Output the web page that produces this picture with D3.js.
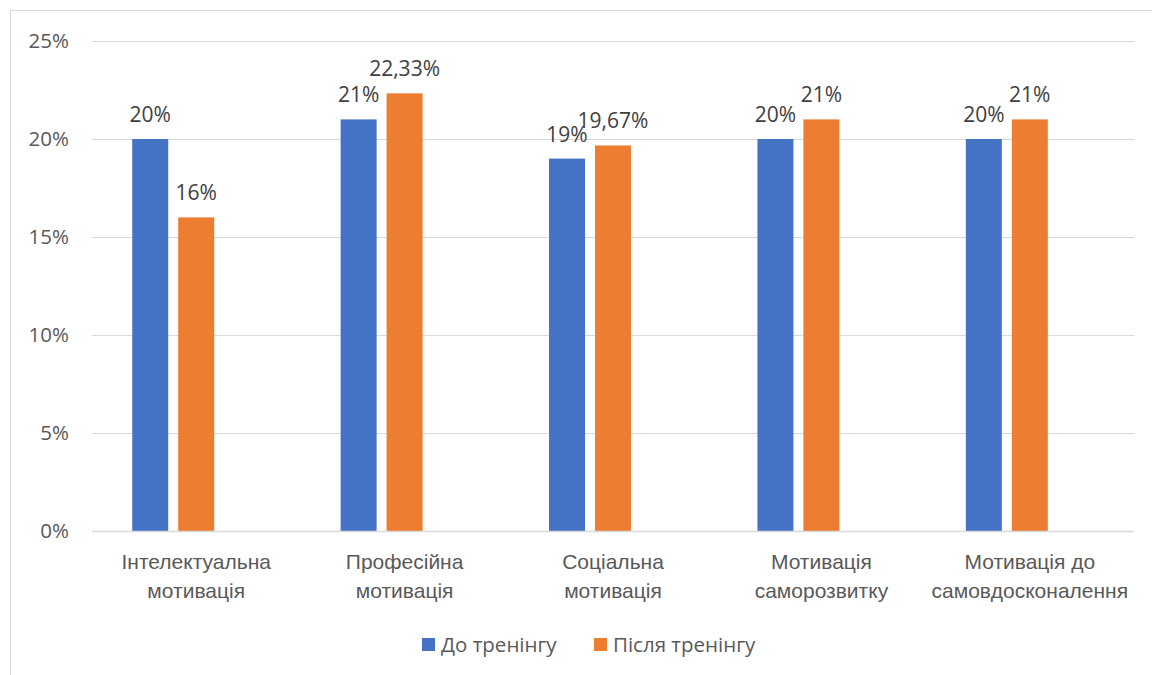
<!DOCTYPE html>
<html>
<head>
<meta charset="utf-8">
<script src="https://cdn.jsdelivr.net/npm/d3@7"></script>
<style>
  html, body { margin: 0; padding: 0; background: #fff; }
  svg { display: block; font-family: "Open Sans", "Noto Sans", sans-serif; }
</style>
</head>
<body>
<svg id="chart" width="1152" height="675"></svg>
<script>
// Motivation types (line breaks mark where the axis label wraps)
const categories = [
  "Інтелектуальна\nмотивація",
  "Професійна\nмотивація",
  "Соціальна\nмотивація",
  "Мотивація\nсаморозвитку",
  "Мотивація до\nсамовдосконалення"
];
const seriesNames = ["До тренінгу", "Після тренінгу"];
const seriesColors = ["#4472C4", "#ED7D31"];
const beforeValues = [20, 21, 19, 20, 20];
const afterValues = [16, 22.33, 19.67, 21, 21];
const yTicks = [0, 5, 10, 15, 20, 25];

const series = [beforeValues, afterValues];

const svg = d3.select("#chart");
const W = 1152, H = 675;
const plot = { left: 92, right: 1134, top: 41, bottom: 531 };

// Chart-area frame
svg.append("rect")
  .attr("x", 10.5).attr("y", 10.5)
  .attr("width", W + 20).attr("height", H + 20)
  .attr("fill", "none").attr("stroke", "#d9d9d9").attr("stroke-width", 1);

const y = d3.scaleLinear().domain([0, 25]).range([plot.bottom, plot.top]);

const x = d3.scaleBand()
  .domain(categories)
  .range([plot.left, plot.right])
  .paddingInner(0.386)
  .paddingOuter(0.193);

// Each cluster reserves three slots; the two series fill the first two
const slot = d3.scaleBand()
  .domain([0, 1, 2])
  .range([0, x.bandwidth()])
  .paddingInner(0.217)
  .paddingOuter(0);

// Gridlines
svg.append("g")
  .selectAll("line")
  .data(yTicks)
  .join("line")
  .attr("x1", plot.left).attr("x2", plot.right)
  .attr("y1", d => Math.round(y(d)) + 0.5)
  .attr("y2", d => Math.round(y(d)) + 0.5)
  .attr("stroke", "#d9d9d9").attr("stroke-width", 1);

// Y axis labels
const yAxis = d3.axisLeft(y).tickValues(yTicks).tickFormat(d => d + "%").tickSize(0).tickPadding(0);
const gy = svg.append("g").attr("transform", "translate(69,0)").call(yAxis);
gy.select(".domain").remove();
gy.selectAll("text")
  .attr("fill", "#595959")
  .style("font-size", "20.5px")
  .style("font-family", "'Open Sans', sans-serif");

// Bars
const fmt = v => (Number.isInteger(v) ? String(v) : v.toFixed(2).replace(".", ",")) + "%";

series.forEach((vals, si) => {
  const g = svg.append("g");
  g.selectAll("rect")
    .data(vals)
    .join("rect")
    .attr("x", (d, i) => x(categories[i]) + slot(si))
    .attr("width", slot.bandwidth())
    .attr("y", d => y(d))
    .attr("height", d => y(0) - y(d))
    .attr("fill", seriesColors[si]);

  g.selectAll("text")
    .data(vals)
    .join("text")
    .attr("x", (d, i) => x(categories[i]) + slot(si) + slot.bandwidth() / 2)
    .attr("y", d => y(d) - 17)
    .attr("text-anchor", "middle")
    .attr("fill", "#404040")
    .style("font-size", "21px")
    .text(d => fmt(d));
});

// Category axis baseline
svg.append("line")
  .attr("x1", plot.left).attr("x2", plot.right)
  .attr("y1", plot.bottom + 0.5).attr("y2", plot.bottom + 0.5)
  .attr("stroke", "#d9d9d9").attr("stroke-width", 1.5);

// Category labels
const xAxis = d3.axisBottom(x).tickSize(0).tickFormat("");
const gx = svg.append("g").attr("transform", `translate(0,${plot.bottom})`).call(xAxis);
gx.select(".domain").remove();
gx.selectAll(".tick").each(function (d) {
  const t = d3.select(this).append("text")
    .attr("text-anchor", "middle")
    .attr("fill", "#595959")
    .style("font-size", "21px");
  d.split("\n").forEach((line, k) => {
    t.append("tspan").attr("x", 0).attr("y", 38 + k * 29).text(line);
  });
});

// Legend
const legend = svg.append("g");
const legendX = [422, 594];
seriesNames.forEach((name, si) => {
  legend.append("rect")
    .attr("x", legendX[si]).attr("y", 638)
    .attr("width", 13).attr("height", 13)
    .attr("fill", seriesColors[si]);
  legend.append("text")
    .attr("x", legendX[si] + 19).attr("y", 652)
    .attr("fill", "#595959")
    .style("font-size", "20.5px")
    .text(name);
});
</script>
</body>
</html>
